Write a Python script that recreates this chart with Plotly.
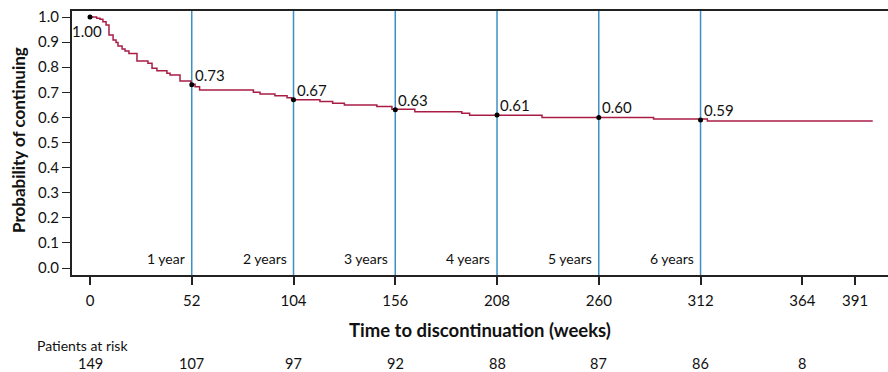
import plotly.graph_objects as go

# Kaplan-Meier step data (weeks, probability of continuing)
weeks = [0, 3.4, 5.1, 6.6, 8.2, 9.7, 11.8, 13.3, 14.3, 16.4, 17.9, 19.9, 24.0, 29.6,
         31.7, 34.2, 39.3, 40.9, 46.0, 51.5, 53.7, 56.0, 83.5, 86.9, 94.5, 100.7,
         103.0, 117.5, 124.0, 130.0, 146.6, 154.3, 166.0, 190.0, 194.0, 231.0,
         288.0, 315.5, 400.0]
surv = [1.0, 0.995, 0.991, 0.981, 0.968, 0.928, 0.908, 0.898, 0.884, 0.873, 0.865,
        0.855, 0.825, 0.816, 0.796, 0.786, 0.776, 0.769, 0.745, 0.732, 0.722, 0.709,
        0.700, 0.693, 0.686, 0.678, 0.670, 0.663, 0.656, 0.649, 0.643, 0.632, 0.623,
        0.617, 0.609, 0.600, 0.594, 0.586, 0.586]

# Marked estimates
mark_weeks = [0, 52, 104, 156, 208, 260, 312]
mark_vals = [1.00, 0.73, 0.67, 0.63, 0.61, 0.60, 0.59]
mark_labels = ["1.00", "0.73", "0.67", "0.63", "0.61", "0.60", "0.59"]

# Year reference lines
year_weeks = [52, 104, 156, 208, 260, 312]
year_labels = ["1 year", "2 years", "3 years", "4 years", "5 years", "6 years"]

# Axis ticks
x_ticks = [0, 52, 104, 156, 208, 260, 312, 364, 391]
y_ticks = [0.0, 0.1, 0.2, 0.3, 0.4, 0.5, 0.6, 0.7, 0.8, 0.9, 1.0]

# Patients at risk
risk_weeks = [0, 52, 104, 156, 208, 260, 312, 364]
risk_counts = [149, 107, 97, 92, 88, 87, 86, 8]

FONT = "Lato"
RED = "#a91d45"
BLUE = "#3d8fc6"
TXT = "#111"

fig = go.Figure()

for w in year_weeks:
    fig.add_trace(go.Scatter(x=[w, w], y=[-0.03, 1.03], mode="lines",
                             line=dict(color=BLUE, width=1.5), hoverinfo="skip",
                             showlegend=False))

fig.add_trace(go.Scatter(x=weeks, y=surv, mode="lines", line_shape="hv",
                         line=dict(color=RED, width=1.5), showlegend=False))

fig.add_trace(go.Scatter(x=mark_weeks, y=mark_vals, mode="markers",
                         marker=dict(color="black", size=5), showlegend=False))

annotations = []
for i, (w, v, t) in enumerate(zip(mark_weeks, mark_vals, mark_labels)):
    if i == 0:
        annotations.append(dict(x=w, y=v, text=t, showarrow=False, xanchor="center",
                                yanchor="top", xshift=-3, yshift=-3,
                                font=dict(family=FONT, size=15, color=TXT)))
    else:
        annotations.append(dict(x=w, y=v, text=t, showarrow=False, xanchor="left",
                                yanchor="bottom", xshift=1, yshift=-1,
                                font=dict(family=FONT, size=15, color=TXT)))

for w, t in zip(year_weeks, year_labels):
    annotations.append(dict(x=w, y=0.037, text=t, showarrow=False, xanchor="right",
                            yanchor="middle", xshift=-5,
                            font=dict(family=FONT, size=14, color=TXT)))

annotations.append(dict(x=0, y=0.5, xref="paper", yref="paper",
                        text="<b>Probability of continuing</b>", textangle=-90,
                        showarrow=False, xanchor="center", yanchor="middle", xshift=-54,
                        yshift=3, font=dict(family=FONT, size=17, color=TXT)))
annotations.append(dict(x=0.5, y=0, xref="paper", yref="paper",
                        text="<b>Time to discontinuation (weeks)</b>",
                        showarrow=False, xanchor="center", yanchor="middle", yshift=-55,
                        font=dict(family=FONT, size=18.5, color=TXT)))
annotations.append(dict(x=0, y=0, xref="paper", yref="paper", text="Patients at risk",
                        showarrow=False, xanchor="left", yanchor="middle",
                        xshift=-37, yshift=-70,
                        font=dict(family=FONT, size=14, color=TXT)))
for w, n in zip(risk_weeks, risk_counts):
    annotations.append(dict(x=w, y=0, xref="x", yref="paper", text=str(n),
                            showarrow=False, xanchor="center", yanchor="middle",
                            yshift=-88, font=dict(family=FONT, size=14.5, color=TXT)))

fig.update_layout(
    width=888, height=372,
    margin=dict(l=72, r=0, t=11, b=97),
    paper_bgcolor="white", plot_bgcolor="white",
    font=dict(family=FONT, size=15, color=TXT),
    annotations=annotations,
    xaxis=dict(range=[-9.2, 407.8], tickvals=x_ticks, ticks="outside", ticklen=8,
               tickcolor="#222", tickwidth=1.5, showline=True, linecolor="#222",
               linewidth=2, mirror=True, showgrid=False, zeroline=False,
               ticklabelstandoff=3, tickfont=dict(family=FONT, size=15)),
    yaxis=dict(range=[-0.0279, 1.0239], tickvals=y_ticks, tickformat=".1f",
               ticks="outside", ticklen=8, tickcolor="#222", tickwidth=1.2,
               showline=True, linecolor="#222", linewidth=2, showgrid=False,
               zeroline=False, tickfont=dict(family=FONT, size=15)),
)

fig.write_html("out.html", config={"displayModeBar": False},
               post_script="document.body.style.margin='0px';document.body.style.overflow='hidden';")
